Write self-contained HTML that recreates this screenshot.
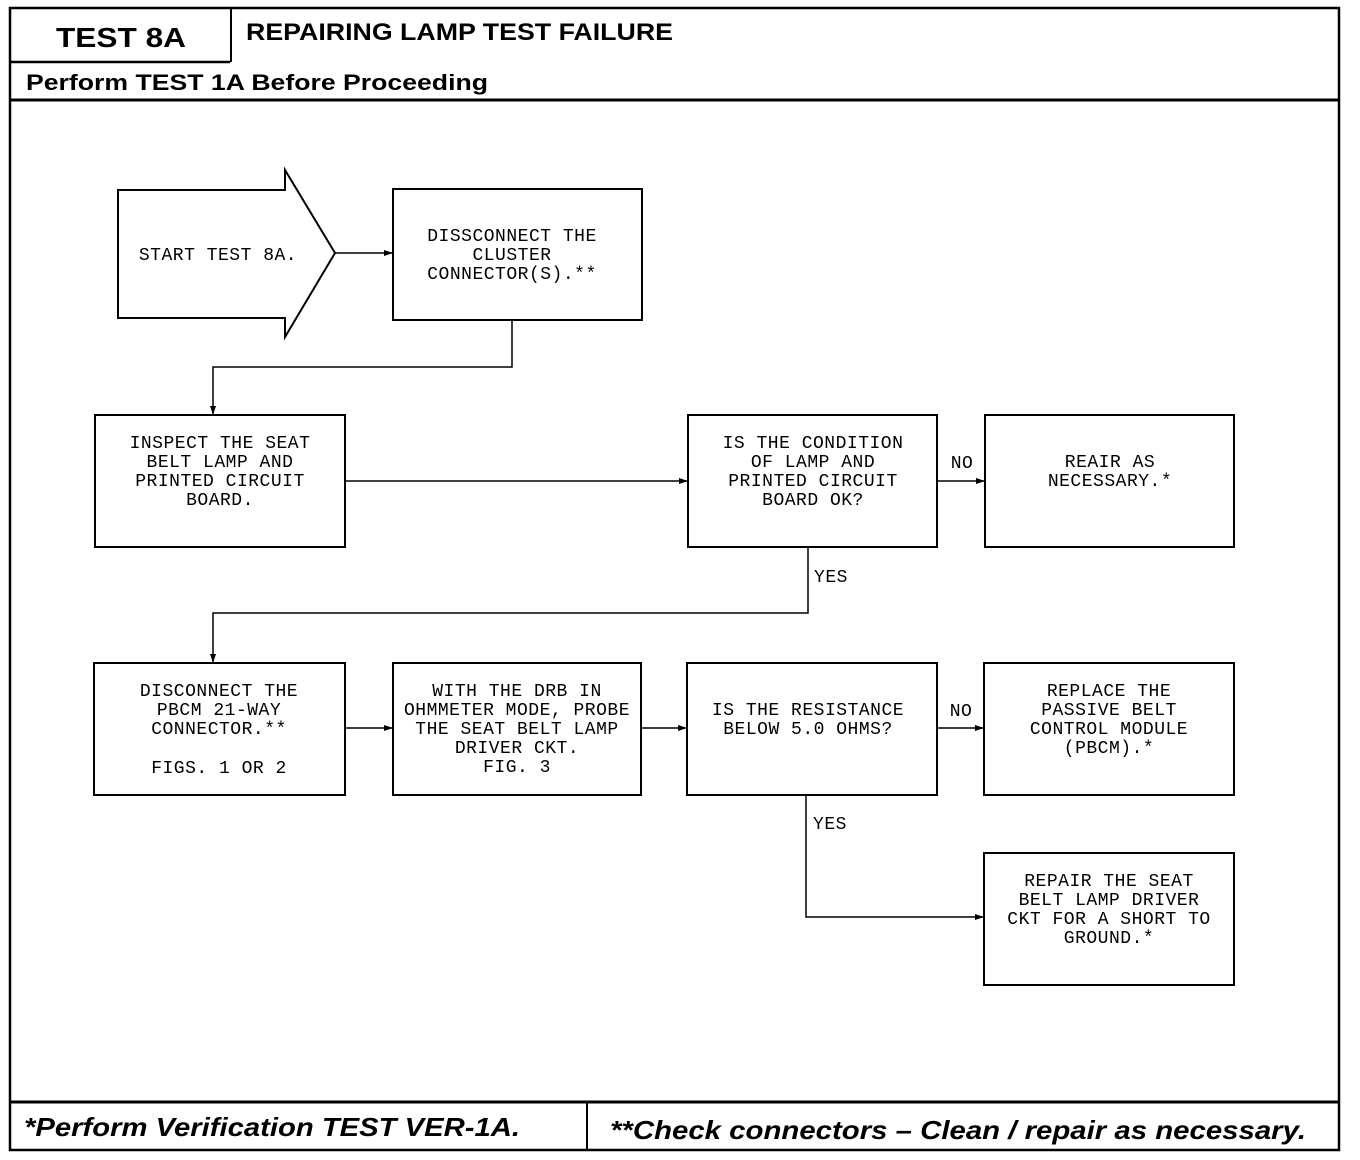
<!DOCTYPE html>
<html><head><style>
html,body{margin:0;padding:0;background:#fff;}
svg{display:block;}
.m{font-family:"Liberation Mono",monospace;font-size:18px;letter-spacing:0.5px;fill:#000;text-anchor:middle;}
.h{font-family:"Liberation Sans",sans-serif;font-weight:bold;fill:#000;}
</style></head><body>
<svg width="1360" height="1160" viewBox="0 0 1360 1160" xmlns="http://www.w3.org/2000/svg">
<defs><marker id="a" markerWidth="10" markerHeight="8" refX="9" refY="4" orient="auto" markerUnits="userSpaceOnUse"><path d="M0,1 L9,4 L0,7 Z" fill="#000"/></marker></defs>
<g fill="none" stroke="#000">
<rect x="10" y="8" width="1329" height="1142" stroke-width="2.5"/>
<line x1="10" y1="62" x2="230" y2="62" stroke-width="2.5"/>
<line x1="231" y1="8" x2="231" y2="62" stroke-width="2"/>
<line x1="10" y1="100" x2="1339" y2="100" stroke-width="3"/>
<line x1="10" y1="1102" x2="1339" y2="1102" stroke-width="3"/>
<line x1="587" y1="1102" x2="587" y2="1150" stroke-width="2"/>
<g stroke-width="2">
<path d="M118,190 L285,190 L285,170 L335,253 L285,337 L285,318 L118,318 Z"/>
<rect x="393" y="189" width="249" height="131"/>
<rect x="95" y="415" width="250" height="132"/>
<rect x="688" y="415" width="249" height="132"/>
<rect x="985" y="415" width="249" height="132"/>
<rect x="94" y="663" width="251" height="132"/>
<rect x="393" y="663" width="248" height="132"/>
<rect x="687" y="663" width="250" height="132"/>
<rect x="984" y="663" width="250" height="132"/>
<rect x="984" y="853" width="250" height="132"/>
</g>
<g stroke-width="1.5" marker-end="url(#a)">
<line x1="335" y1="253" x2="393" y2="253"/>
<polyline points="512,320 512,367 213,367 213,415"/>
<line x1="345" y1="481" x2="688" y2="481"/>
<line x1="937" y1="481" x2="985" y2="481"/>
<polyline points="808,547 808,613 213,613 213,663"/>
<line x1="345" y1="728" x2="393" y2="728"/>
<line x1="641" y1="728" x2="687" y2="728"/>
<line x1="937" y1="728" x2="984" y2="728"/>
<polyline points="806,795 806,917 984,917"/>
</g>
</g>
<text class="h" x="56" y="47" font-size="28" textLength="130" lengthAdjust="spacingAndGlyphs">TEST 8A</text>
<text class="h" x="246" y="40" font-size="24" textLength="427" lengthAdjust="spacingAndGlyphs">REPAIRING LAMP TEST FAILURE</text>
<text class="h" x="26" y="90" font-size="22" textLength="462" lengthAdjust="spacingAndGlyphs">Perform TEST 1A Before Proceeding</text>
<text class="h" x="24" y="1136" font-size="26" font-style="italic" textLength="496" lengthAdjust="spacingAndGlyphs">*Perform Verification TEST VER-1A.</text>
<text class="h" x="610" y="1139" font-size="26" font-style="italic" textLength="696" lengthAdjust="spacingAndGlyphs">**Check connectors – Clean / repair as necessary.</text>
<g class="m">
<text x="218" y="260">START TEST 8A.</text>
<text x="512" y="241">DISSCONNECT THE</text><text x="512" y="260">CLUSTER</text><text x="512" y="279">CONNECTOR(S).**</text>
<text x="220" y="448">INSPECT THE SEAT</text><text x="220" y="467">BELT LAMP AND</text><text x="220" y="486">PRINTED CIRCUIT</text><text x="220" y="505">BOARD.</text>
<text x="813" y="448">IS THE CONDITION</text><text x="813" y="467">OF LAMP AND</text><text x="813" y="486">PRINTED CIRCUIT</text><text x="813" y="505">BOARD OK?</text>
<text x="1110" y="467">REAIR AS</text><text x="1110" y="486">NECESSARY.*</text>
<text x="219" y="696">DISCONNECT THE</text><text x="219" y="715">PBCM 21-WAY</text><text x="219" y="734">CONNECTOR.**</text><text x="219" y="773">FIGS. 1 OR 2</text>
<text x="517" y="696">WITH THE DRB IN</text><text x="517" y="715">OHMMETER MODE, PROBE</text><text x="517" y="734">THE SEAT BELT LAMP</text><text x="517" y="753">DRIVER CKT.</text><text x="517" y="772">FIG. 3</text>
<text x="808" y="715">IS THE RESISTANCE</text><text x="808" y="734">BELOW 5.0 OHMS?</text>
<text x="1109" y="696">REPLACE THE</text><text x="1109" y="715">PASSIVE BELT</text><text x="1109" y="734">CONTROL MODULE</text><text x="1109" y="753">(PBCM).*</text>
<text x="1109" y="886">REPAIR THE SEAT</text><text x="1109" y="905">BELT LAMP DRIVER</text><text x="1109" y="924">CKT FOR A SHORT TO</text><text x="1109" y="943">GROUND.*</text>
<text x="962" y="468">NO</text><text x="831" y="582">YES</text>
<text x="961" y="716">NO</text><text x="830" y="829">YES</text>
</g>
</svg>
</body></html>
